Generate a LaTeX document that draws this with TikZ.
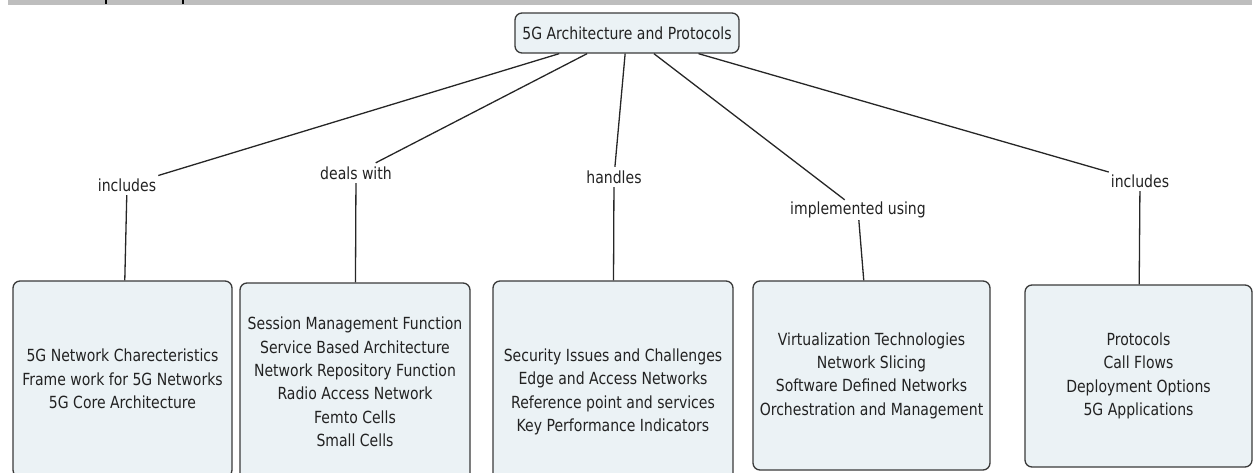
\documentclass[tikz,border=0pt]{standalone}
\usepackage{fontspec}
\setmainfont{DejaVu Sans}[FakeStretch=0.84]
\definecolor{boxfill}{HTML}{EBF2F5}
\definecolor{boxline}{HTML}{3A3A3A}
\definecolor{txt}{HTML}{222222}
\definecolor{barcol}{HTML}{BEBEBE}
\begin{document}
\begin{tikzpicture}[x=1pt,y=-1pt,
  concept/.style={draw=boxline, line width=1.3pt, fill=boxfill, rounded corners=7pt, align=center, inner sep=0pt, text=txt, font=\fontsize{16.7}{23.3}\selectfont},
  linkword/.style={inner xsep=2pt, inner ysep=0pt, minimum height=20pt, text=txt, font=\fontsize{16.7}{20}\selectfont},
  conn/.style={draw=black!85, line width=1.3pt}]
\useasboundingbox (0,0) rectangle (1253,472);
\fill[barcol] (8,0) rectangle (1252,4.5);
\fill[black] (104.5,0) rectangle (106.5,4);
\fill[black] (181.5,0) rectangle (183.5,4);

\node[concept, minimum width=224pt, minimum height=40pt] (root) at (627,33) {5G Architecture and Protocols};

\node[linkword] (l1) at (127,185) {includes};
\node[linkword] (l2) at (356,173) {deals with};
\node[linkword] (l3) at (614,177) {handles};
\node[linkword] (l4) at (858,210) {implemented using};
\node[linkword] (l5) at (1140,181) {includes};

\node[concept, minimum width=219pt, minimum height=196pt] (b1) at (122.5,379) {5G Network Charecteristics\\Frame work for 5G Networks\\5G Core Architecture};
\node[concept, minimum width=230pt, minimum height=198pt] (b2) at (355,382) {Session Management Function\\Service Based Architecture\\Network Repository Function\\Radio Access Network\\Femto Cells\\Small Cells};
\node[concept, minimum width=240pt, minimum height=222pt] (b3) at (613,392) {Security Issues and Challenges\\Edge and Access Networks\\Reference point and services\\Key Performance Indicators};
\node[concept, minimum width=237pt, minimum height=189pt] (b4) at (871.5,375.5) {Virtualization Technologies\\Network Slicing\\Software Defined Networks\\Orchestration and Management};
\node[concept, minimum width=227pt, minimum height=182pt] (b5) at (1138.5,376) {Protocols\\Call Flows\\Deployment Options\\5G Applications};

\draw[conn] (root) -- (l1);
\draw[conn] (root) -- (l2);
\draw[conn] (root) -- (l3);
\draw[conn] (root) -- (l4);
\draw[conn] (root) -- (l5);
\draw[conn] (l1) -- (b1);
\draw[conn] (l2) -- (b2);
\draw[conn] (l3) -- (b3);
\draw[conn] (l4) -- (b4);
\draw[conn] (l5) -- (b5);
\end{tikzpicture}
\end{document}
